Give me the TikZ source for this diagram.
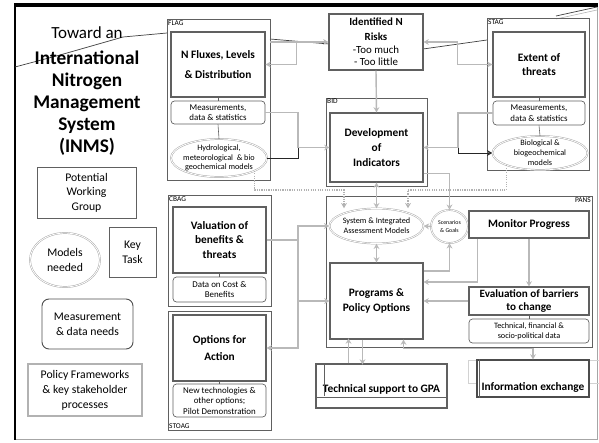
\documentclass[tikz,border=0pt]{standalone}
\usepackage{fontspec}
\setmainfont{Carlito}
\usetikzlibrary{positioning,shapes.geometric,arrows.meta,calc}

\tikzset{
  sz/.style 2 args={minimum width=#1*0.3mm,minimum height=#2*0.3mm},
  grp/.style={draw=gray!75!black,line width=0.7pt,inner sep=0pt},
  task/.style={draw=gray!75!black,line width=0.9pt,inner sep=0pt,align=center,font=\bfseries\fontsize{9.7}{12.5}\selectfont},
  meas/.style={draw=gray!75!black,rounded corners=3pt,line width=0.6pt,inner sep=0pt,align=center,font=\fontsize{7.6}{9}\selectfont},
  model/.style={ellipse,draw=gray!70,double=white,double distance=0.7pt,line width=0.4pt,inner xsep=-8pt,inner ysep=-3pt,align=center,font=\fontsize{7}{8.4}\selectfont},
  tag/.style={inner sep=1.2pt,font=\fontsize{6.3}{7}\selectfont},
  legend/.style={draw=gray!75!black,line width=0.6pt,inner sep=0pt,align=center,font=\fontsize{10}{12.5}\selectfont},
  link/.style={draw=gray!55,line width=1.2pt},
  dots/.style={draw=gray!60,line width=1pt,densely dotted},
  tie/.style={draw=gray!75!black,line width=0.5pt},
  dark/.style={draw=black!85,line width=0.8pt},
  swoosh/.style={draw=black!75,line width=0.6pt}
}

\begin{document}
\begin{tikzpicture}[x=0.3mm,y=-0.3mm,>={Stealth[open,length=4.5pt,width=5pt]}]
    \useasboundingbox (0,0) rectangle (599,442);
    % frame
    \draw[gray!70,line width=0.8pt] (15,439) -- (597,439) -- (597,5);
    \draw[line width=2.6pt] (14,5) -- (598,5);
    \draw[line width=1.5pt] (15,4) -- (15,440);

    % swoosh
    \draw[swoosh] (15,67) -- (60,55) -- (123,37) -- (167,33);
    \draw[swoosh] (270,39) -- (329,44);
    \draw[swoosh] (423,49) -- (487,40);
    \draw[swoosh] (556,16) -- (597,7);
    \draw[gray!60,line width=0.5pt] (556,19) -- (597,10);

    \node[align=center,font=\bfseries\fontsize{16.5}{18.8}\selectfont] (title) at (87,91)
        {{\mdseries\fontsize{14.5}{16}\selectfont Toward an}\\[4pt] International\\ Nitrogen\\ Management\\ System\\ (INMS)};

    % FLAG
    \node[grp,sz={103}{161}] (flag) at (218.5,99.5) {};
    \node[task,sz={94}{65}] (fluxes) at (218,64.5) {N Fluxes, Levels\\[5pt] \& Distribution};
    \node[meas,sz={94}{23}] (flagdata) at (218,112.5) {Measurements,\\ data \& statistics};
    \node[model,sz={96}{38}] (hydro) at (219,158) {Hydrological,\\ meteorological~ \& bio\\ geochemical models};

    \node[task,sz={94}{56},font=\fontsize{9.3}{10.6}\selectfont] (risks) at (376,42)
        {\textbf{Identified N}\\[2pt] \textbf{Risks}\\ -Too much\\ - Too little};

    % STAG
    \node[grp,sz={102}{152}] (stag) at (538,94) {};
    \node[task,sz={92}{65}] (threats) at (539,64.5) {Extent of\\ threats};
    \node[meas,sz={92}{24}] (stagdata) at (539,113) {Measurements,\\ data \& statistics};
    \node[model,sz={95}{34}] (bio) at (540,153) {Biological \&\\ biogeochemical\\ models};

    % BID
    \node[grp,sz={101}{88}] (bid) at (376.5,142) {};
    \node[task,sz={93}{69}] (dev) at (376.5,147.5) {Development\\ of\\ Indicators};

    % CBAG, STOAG
    \node[grp,sz={103}{111}] (cbag) at (219.5,250.5) {};
    \node[task,sz={93}{66}] (valuation) at (219.5,240) {Valuation of\\ benefits \&\\ threats};
    \node[meas,sz={93}{25}] (costdata) at (219.5,289.5) {Data on Cost \&\\ Benefits};
    \node[grp,sz={103}{119}] (stoag) at (219.5,370.5) {};
    \node[task,sz={93}{66}] (options) at (219.5,348) {Options for\\[2pt] Action};
    \node[meas,sz={93}{33}] (newtech) at (219.5,400.5) {New technologies \&\\ other options;\\ Pilot Demonstration};

    % PANS
    \node[grp,sz={266}{151}] (pans) at (459,271.5) {};
    \node[model,sz={94}{35}] (sysmodels) at (376.5,226) {System \& Integrated\\ Assessment Models};
    \node[model,sz={37}{33},font=\fontsize{5}{6}\selectfont] (scen) at (449.5,226.5) {Scenarios\\ \& Goals};
    \node[task,sz={120}{27}] (monitor) at (529,224.5) {Monitor Progress};
    \node[task,sz={93}{76}] (programs) at (376.5,301) {Programs \&\\ Policy Options};
    \node[task,sz={120}{28},font=\bfseries\fontsize{9.5}{11}\selectfont] (evaluation) at (529,301) {Evaluation of barriers\\ to change};
    \node[meas,sz={120}{24},font=\fontsize{7}{8.5}\selectfont] (techdata) at (529,331) {Technical, financial \&\\ socio-political data};

    % bottom boxes
    \draw[gray!35,line width=0.4pt] (468,360) rectangle (599,383);
    \node[task,sz={131}{44},text height=3.6mm,text depth=0pt] (gpa) at (381.5,386) {Technical support to GPA};
    \draw[tie] ($(gpa.south west)+(0,-11)$) -- ($(gpa.south east)+(0,-11)$);
    \draw[tie] ($(gpa.north west)+(9,0)$) -- ++(0,33);
    \node[task,sz={112}{37},text height=6.9mm,text depth=0pt,draw=black!70,fill=white] (infoex) at (533,378.5) {Information exchange};
    \draw[tie] ($(infoex.north west)+(3,0)$) -- ($(infoex.south west)+(3,0)$);

    % legend
    \node[legend,sz={99}{51},font=\fontsize{10}{12.3}\selectfont] (pwg) at (86.5,192.5) {Potential\\ Working\\ Group};
    \node[model,sz={70}{54},font=\fontsize{10}{12.5}\selectfont] (models) at (65,260) {Models\\ needed};
    \node[legend,sz={47}{50}] (keytask) at (132.5,252) {Key\\ Task};
    \node[legend,sz={91}{50},rounded corners=6pt,draw=black!70,line width=0.8pt] (measneeds) at (87.5,324) {Measurement\\ \& data needs};
    \node[legend,sz={114}{52},draw=gray!60,line width=1.2pt,font=\fontsize{10}{12.8}\selectfont] (policy) at (85,390) {Policy Frameworks\\ \& key stakeholder\\ processes};

    % group tags
    \foreach \g/\t in {flag/FLAG,stag/STAG,bid/BID,cbag/CBAG}
        \node[tag,anchor=north west] (\g-tag) at (\g.north west) {\t};
    \node[tag,anchor=south west] (stoag-tag) at (stoag.south west) {STOAG};
    \node[tag,anchor=north east] (pans-tag) at (pans.north east) {PANS};

    \foreach \a/\b in {fluxes/flagdata,flagdata/hydro,threats/stagdata,stagdata/bio,valuation/costdata,options/newtech,evaluation/techdata}
        \draw[tie] (\a.south) -- (\b.north);

    % connectors
    \draw[link,->] (flag.east |- risks.west) -- (risks.west);
    \draw[link,->] (risks.west) ++(-32,0) |- (fluxes.east);
    \draw[link,->] (risks.east) ++(34,0) -- (risks.east);
    \draw[link,->] (risks.east) ++(34,0) |- (threats.west);
    \draw[link,->] (risks.south) -- (dev.north);

    \coordinate (lj) at (298,147.5);
    \draw[link] (flagdata.east) -| (lj);
    \draw[dark] (hydro.east) -| (lj);
    \draw[link,->] (lj) -- (dev.west);
    \coordinate (rj) at (458,147.5);
    \draw[link] (stagdata.west) -| (rj);
    \draw[link,->] (rj) -- (dev.east);
    \draw[dark,->] (rj) |- (bio.west);

    \coordinate (dl) at (344,190);
    \coordinate (dr) at (408,190);
    \draw[dots,->] (hydro.-20) |- (dl) -- (sysmodels.north -| dl);
    \draw[dots,->] (bio.-160) |- (dr) -- (sysmodels.north -| dr);

    \draw[link,->] (dev.east) ++(0,26) -| (scen.north);
    \draw[link,<->] (dev.south) -- (sysmodels.north);
    \draw[link,<->] (sysmodels.south) -- (programs.north);
    \draw[link,->] (scen.west) -- (sysmodels.east);
    \draw[link,->] (programs.east) ++(0,-30) -| (scen.south);
    \draw[link,->] (monitor.south west) ++(9,0) |- ($(programs.east)+(0,-19)$);
    \draw[link,->] (monitor.south) -- (evaluation.north);
    \draw[link,->] (evaluation.west) -- (programs.east);

    \coordinate (vj) at (298,240);
    \draw[link] (valuation.east) -- (vj);
    \draw[link,->] (vj) |- (sysmodels.west);
    \draw[link,->] (vj) |- (programs.west);
    \draw[link,->] (vj) |- (options.east);

    \draw[link,->] ($(gpa.north)+(-33,0)$) -- ++(0,-25);
    \draw[link,->] ($(programs.south)+(-14,0)$) -- ++(0,25);
    \draw[link,<->] (infoex.north) -- ++(0,-11) -| ($(programs.south)+(27,0)$);
\end{tikzpicture}
\end{document}
